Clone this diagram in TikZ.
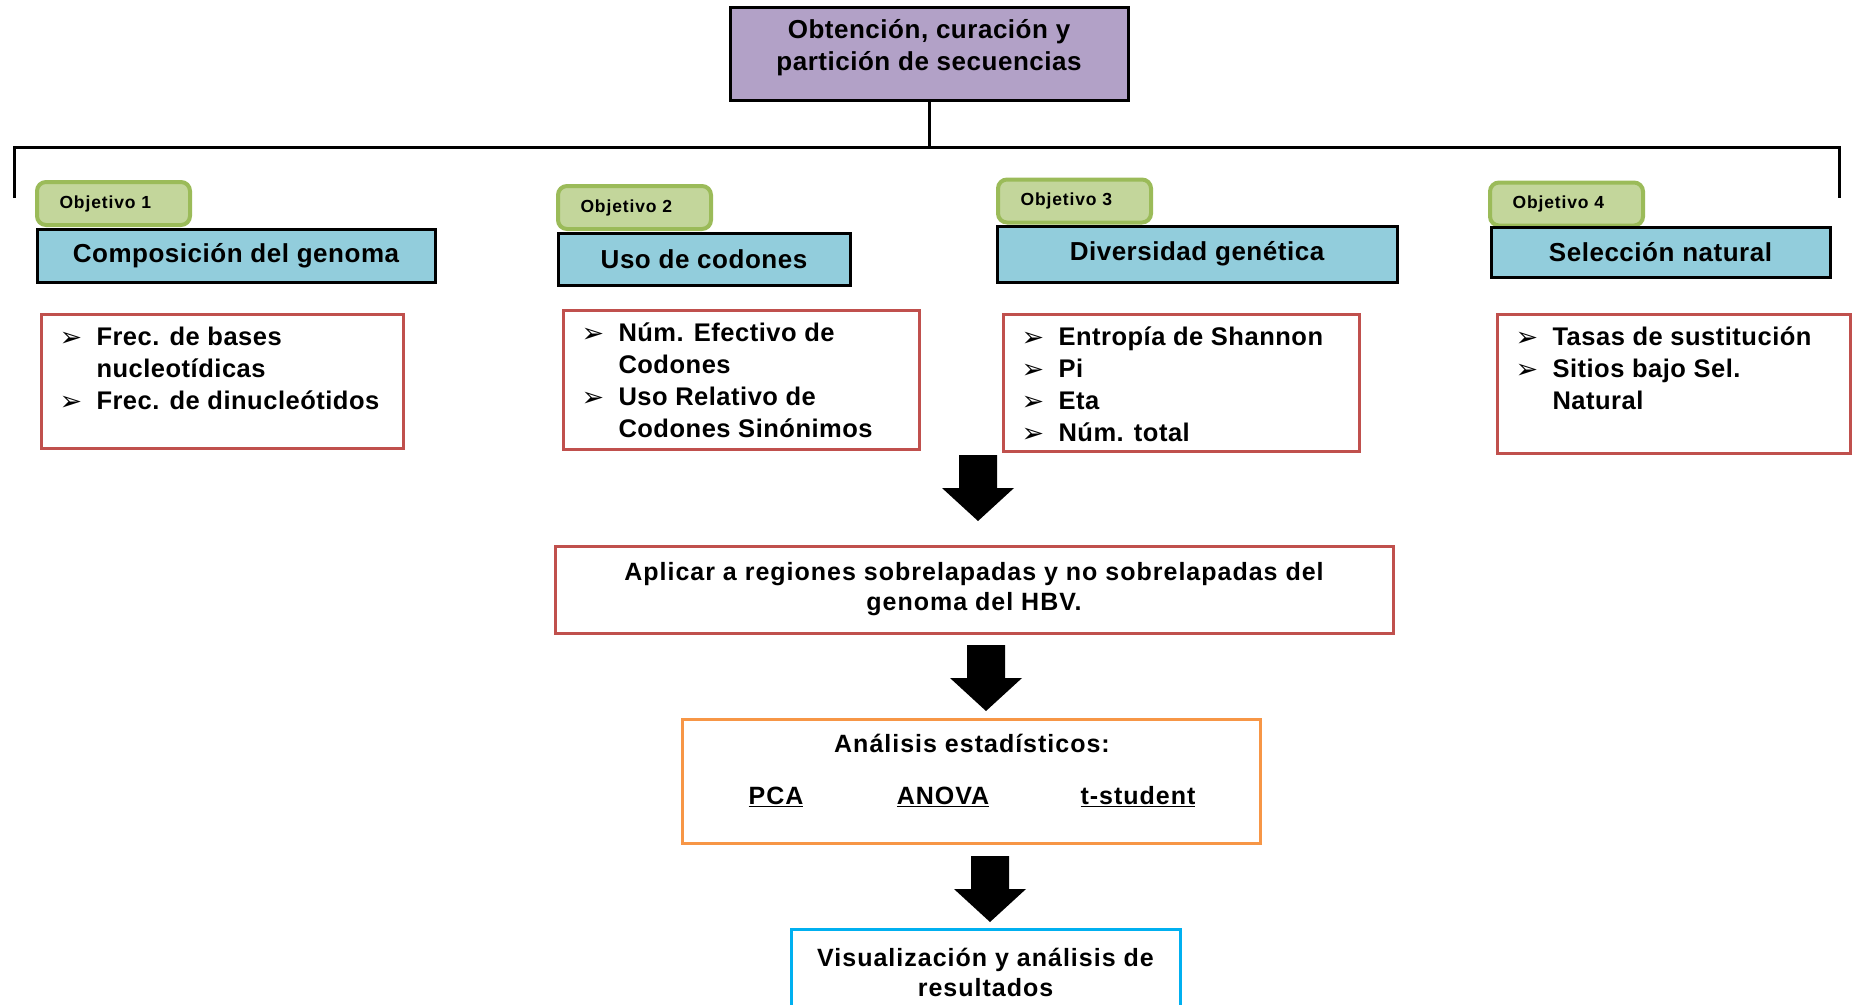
\documentclass[tikz,border=0pt]{standalone}
\usepackage{fontspec}
\setmainfont{Liberation Sans}
\newfontfamily\symfont{DejaVu Sans}
\usetikzlibrary{positioning}

\definecolor{lila}{HTML}{B2A1C7}
\definecolor{verdeclaro}{HTML}{C3D69B}
\definecolor{verdeborde}{HTML}{9BBB59}
\definecolor{celeste}{HTML}{92CDDC}
\definecolor{rojo}{HTML}{C0504D}
\definecolor{naranja}{HTML}{F79646}
\definecolor{cian}{HTML}{00B0F0}

% bullet for the lists
\newcommand\vin{\par\noindent\hangindent=33pt\hangafter=1\strut\makebox[33pt][l]{\hspace*{-4pt}\raisebox{-1pt}{\symfont\fontsize{27}{27}\selectfont ➢}}}

\tikzset{
  titulo/.style={draw, line width=3pt, fill=lila, minimum width=398pt, minimum height=93pt, align=center, text depth=17pt, font=\bfseries\fontsize{26}{32}\selectfont\addfontfeature{LetterSpace=2}},
  etiqueta/.style={draw=verdeborde, line width=4pt, fill=verdeclaro, rounded corners=9pt, minimum width=153pt, minimum height=43pt, text width=108pt, align=left, font=\bfseries\fontsize{17.5}{17.5}\selectfont\addfontfeature{LetterSpace=5}},
  tema/.style={draw, line width=3pt, fill=celeste, minimum height=53pt, font=\bfseries\fontsize{26}{30}\selectfont\addfontfeature{LetterSpace=2}},
  lista/.style={draw=rojo, line width=3pt, anchor=north west, inner xsep=22pt, inner ysep=9pt, align=left, font=\bfseries\fontsize{25.5}{32}\selectfont\addfontfeature{LetterSpace=2}},
  paso/.style={draw=#1, line width=3pt, align=center, font=\bfseries\fontsize{25}{30}\selectfont\addfontfeature{LetterSpace=4}},
  texto/.style={font=\bfseries\fontsize{25}{30}\selectfont\addfontfeature{LetterSpace=4}}
}

\begin{document}
\begin{tikzpicture}[x=1pt,y=-1pt]
    \useasboundingbox (0,0) rectangle (1859,1004);

    % Top box and tree
    \node[titulo] (top) at (929,53.5) {Obtención, curación y\\partición de secuencias};
    \coordinate (bus) at (929,147);
    \coordinate (izq) at (14,198);
    \coordinate (der) at (1839,198);
    \draw[line width=3pt] (top.south) -- (bus);
    \draw[line width=3pt] (izq) |- (bus) -| (der);

    % Objectives
    \node[etiqueta] (obj1) at (113.5,203.5) {Objetivo 1};
    \node[etiqueta] (obj2) at (634.5,207.5) {Objetivo 2};
    \node[etiqueta] (obj3) at (1074.5,201) {Objetivo 3};
    \node[etiqueta] (obj4) at (1566.5,204) {Objetivo 4};

    \node[tema, minimum width=398pt] (tema1) at (236,256) {Composición del genoma};
    \node[tema, minimum width=292pt, minimum height=52pt] (tema2) at (704,259) {Uso de codones};
    \node[tema, minimum width=400pt, minimum height=56pt] (tema3) at (1197,254) {Diversidad genética};
    \node[tema, minimum width=339pt, minimum height=50pt] (tema4) at (1660.5,252) {Selección natural};

    % Lists
    \node[lista] (lista1) at (40,313) {\parbox[t][116pt][t]{318pt}{%
      \vin Frec. de bases\\nucleotídicas
      \vin Frec. de dinucleótidos}};
    \node[lista] (lista2) at (562,309) {\parbox[t][121pt][t]{312pt}{%
      \vin Núm. Efectivo de\\Codones
      \vin Uso Relativo de\\Codones Sinónimos}};
    \node[lista] (lista3) at (1002,313) {\parbox[t][119pt][t]{312pt}{%
      \vin Entropía de Shannon
      \vin Pi
      \vin Eta
      \vin Núm. total}};
    \node[lista] (lista4) at (1496,313) {\parbox[t][121pt][t]{309pt}{%
      \vin Tasas de sustitución
      \vin Sitios bajo Sel.\\Natural}};

    % Block arrows
    \foreach \ax/\ay in {978/455, 986/645, 990/856} {
      \fill (\ax-19,\ay) -- (\ax+19,\ay) -- (\ax+19,\ay+33) -- (\ax+36,\ay+33)
        -- (\ax,\ay+66) -- (\ax-36,\ay+33) -- (\ax-19,\ay+33) -- cycle;
    }

    % Steps
    \node[paso=rojo, minimum width=838pt, minimum height=87pt] (aplicar) at (974,589.5) {Aplicar a regiones sobrelapadas y no sobrelapadas del\\genoma del HBV.};

    \node[paso=naranja, minimum width=578pt, minimum height=124pt] (stats) at (971,781) {};
    \node[texto] (statt) at (972,743) {Análisis estadísticos:};
    \node[texto] (pca) at (776,797) {\underline{PCA}};
    \node[texto] (anova) at (943,797) {\underline{ANOVA}};
    \node[texto] (tstud) at (1138,797) {\underline{t-student}};

    \node[paso=cian, minimum width=389pt, minimum height=86pt, anchor=north] (visual) at (985.5,928) {Visualización y análisis de\\resultados};
\end{tikzpicture}
\end{document}
